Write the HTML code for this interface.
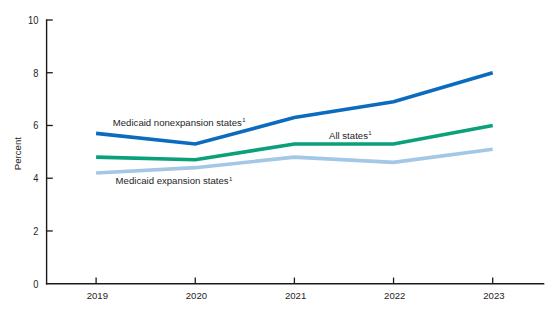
<!DOCTYPE html>
<html><head><meta charset="utf-8"><style>
html,body{margin:0;padding:0;background:#fff;width:560px;height:314px;overflow:hidden}
svg{display:block}
text{font-family:"Liberation Sans",sans-serif;font-size:9.6px;fill:#1e1e1e}
</style></head><body>
<svg width="560" height="314" viewBox="0 0 560 314">
<polyline points="96.10,172.95 195.25,167.67 294.40,157.12 393.55,162.40 492.70,149.21" fill="none" stroke="#a4c7e6" stroke-width="3.6" stroke-linejoin="miter"/><polyline points="96.10,157.12 195.25,159.76 294.40,143.94 393.55,143.94 492.70,125.48" fill="none" stroke="#0aa07a" stroke-width="3.6" stroke-linejoin="miter"/><polyline points="96.10,133.39 195.25,143.94 294.40,117.57 393.55,101.75 492.70,72.74" fill="none" stroke="#0b6cbf" stroke-width="3.6" stroke-linejoin="miter"/>
<line x1="46.6" y1="19.4" x2="46.6" y2="284.4" stroke="#1a1a1a" stroke-width="1.4"/>
<line x1="45.9" y1="283.7" x2="544.3" y2="283.7" stroke="#1a1a1a" stroke-width="1.5"/>
<line x1="46" y1="230.96" x2="52.8" y2="230.96" stroke="#1a1a1a" stroke-width="1.3"/><line x1="46" y1="178.22" x2="52.8" y2="178.22" stroke="#1a1a1a" stroke-width="1.3"/><line x1="46" y1="125.48" x2="52.8" y2="125.48" stroke="#1a1a1a" stroke-width="1.3"/><line x1="46" y1="72.74" x2="52.8" y2="72.74" stroke="#1a1a1a" stroke-width="1.3"/><line x1="46" y1="20.00" x2="52.8" y2="20.00" stroke="#1a1a1a" stroke-width="1.3"/><text transform="translate(38.4,287.70) scale(0.97,1.05)" text-anchor="end">0</text><text transform="translate(38.4,234.96) scale(0.97,1.05)" text-anchor="end">2</text><text transform="translate(38.4,182.22) scale(0.97,1.05)" text-anchor="end">4</text><text transform="translate(38.4,129.48) scale(0.97,1.05)" text-anchor="end">6</text><text transform="translate(38.4,76.74) scale(0.97,1.05)" text-anchor="end">8</text><text transform="translate(38.4,24.00) scale(0.97,1.05)" text-anchor="end">10</text><line x1="96.10" y1="277.6" x2="96.10" y2="283.7" stroke="#1a1a1a" stroke-width="1.3"/><text x="97.30" y="299.2" text-anchor="middle" font-size="9.8px">2019</text><line x1="195.25" y1="277.6" x2="195.25" y2="283.7" stroke="#1a1a1a" stroke-width="1.3"/><text x="196.45" y="299.2" text-anchor="middle" font-size="9.8px">2020</text><line x1="294.40" y1="277.6" x2="294.40" y2="283.7" stroke="#1a1a1a" stroke-width="1.3"/><text x="295.60" y="299.2" text-anchor="middle" font-size="9.8px">2021</text><line x1="393.55" y1="277.6" x2="393.55" y2="283.7" stroke="#1a1a1a" stroke-width="1.3"/><text x="394.75" y="299.2" text-anchor="middle" font-size="9.8px">2022</text><line x1="492.70" y1="277.6" x2="492.70" y2="283.7" stroke="#1a1a1a" stroke-width="1.3"/><text x="493.90" y="299.2" text-anchor="middle" font-size="9.8px">2023</text>
<text x="112.8" y="125.6">Medicaid nonexpansion states<tspan font-size="6px" dx="0.4" dy="-3.5">1</tspan></text>
<text x="329" y="138.9">All states<tspan font-size="6px" dx="0.4" dy="-3.5">1</tspan></text>
<text x="115.6" y="184">Medicaid expansion states<tspan font-size="6px" dx="0.4" dy="-3.5">1</tspan></text>
<text transform="translate(21.3,153.6) rotate(-90)" text-anchor="middle">Percent</text>
</svg>
</body></html>
